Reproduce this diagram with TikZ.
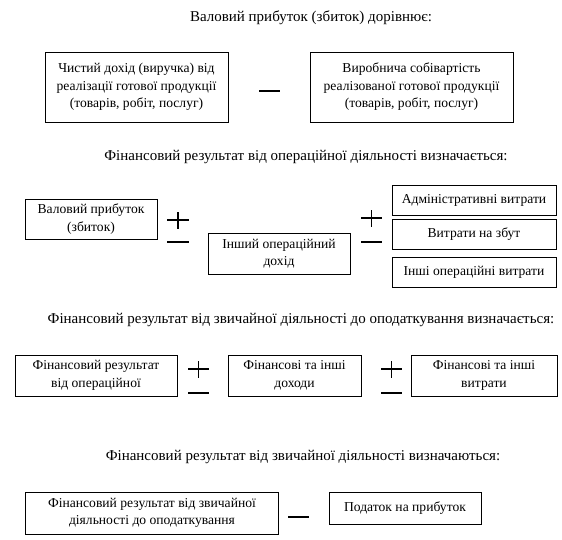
\documentclass[tikz,border=0pt]{standalone}
\usepackage{fontspec}
\setmainfont{Liberation Serif}
\begin{document}
\begin{tikzpicture}[x=1pt,y=-1pt,
  box/.style={draw, line width=0.8pt, align=center, inner sep=0pt, font=\fontsize{13.6}{17.5}\selectfont},
  ttl/.style={inner sep=0pt, font=\fontsize{15}{17}\selectfont},
  sgn/.style={line width=1.7pt}]
\useasboundingbox (0,0) rectangle (562,539);

% Row 1
\node[ttl] (t1) at (311,18) {Валовий прибуток (збиток) дорівнює:};
\node[box, minimum width=183, minimum height=70] (a1) at (136.5,87) {Чистий дохід (виручка) від\\реалізації готової продукції\\(товарів, робіт, послуг)};
\node[box, minimum width=203, minimum height=70] (a2) at (411.5,87) {Виробнича собівартість\\реалізованої готової продукції\\(товарів, робіт, послуг)};
\draw[sgn] (259,91) -- (280,91);

% Row 2
\node[ttl] (t2) at (306,157) {Фінансовий результат від операційної діяльності визначається:};
\node[box, minimum width=132, minimum height=40] (b1) at (91,219) {Валовий прибуток\\(збиток)};
\node[box, minimum width=142, minimum height=41] (b2) at (279,253.5) {Інший операційний\\дохід};
\node[box, minimum width=164, minimum height=30] (b3) at (474,200) {Адміністративні витрати};
\node[box, minimum width=164, minimum height=30] (b4) at (474,234) {Витрати на збут};
\node[box, minimum width=164, minimum height=30] (b5) at (474,272) {Інші операційні витрати};
\draw[sgn] (167,220) -- (189,220) (178,212) -- (178,229);
\draw[sgn] (167,242) -- (189,242);
\draw[sgn] (361,218) -- (382,218) (371.5,210) -- (371.5,227);
\draw[sgn] (361,242) -- (382,242);

% Row 3
\node[ttl] (t3) at (301,320) {Фінансовий результат від звичайної діяльності до оподаткування визначається:};
\node[box, minimum width=162, minimum height=41] (c1) at (96,375.5) {Фінансовий результат\\від операційної};
\node[box, minimum width=133, minimum height=41] (c2) at (294.5,375.5) {Фінансові та інші\\доходи};
\node[box, minimum width=146, minimum height=41] (c3) at (484,375.5) {Фінансові та інші\\витрати};
\draw[sgn] (188,369) -- (209,369) (198.5,361) -- (198.5,378);
\draw[sgn] (188,393) -- (209,393);
\draw[sgn] (381,369) -- (402,369) (391.5,361) -- (391.5,378);
\draw[sgn] (381,393) -- (402,393);

% Row 4
\node[ttl] (t4) at (303,457) {Фінансовий результат від звичайної діяльності визначаються:};
\node[box, minimum width=253, minimum height=42] (d1) at (152,513) {Фінансовий результат від звичайної\\діяльності до оподаткування};
\node[box, minimum width=152, minimum height=32] (d2) at (405,508) {Податок на прибуток};
\draw[sgn] (288,517) -- (309,517);
\end{tikzpicture}
\end{document}
